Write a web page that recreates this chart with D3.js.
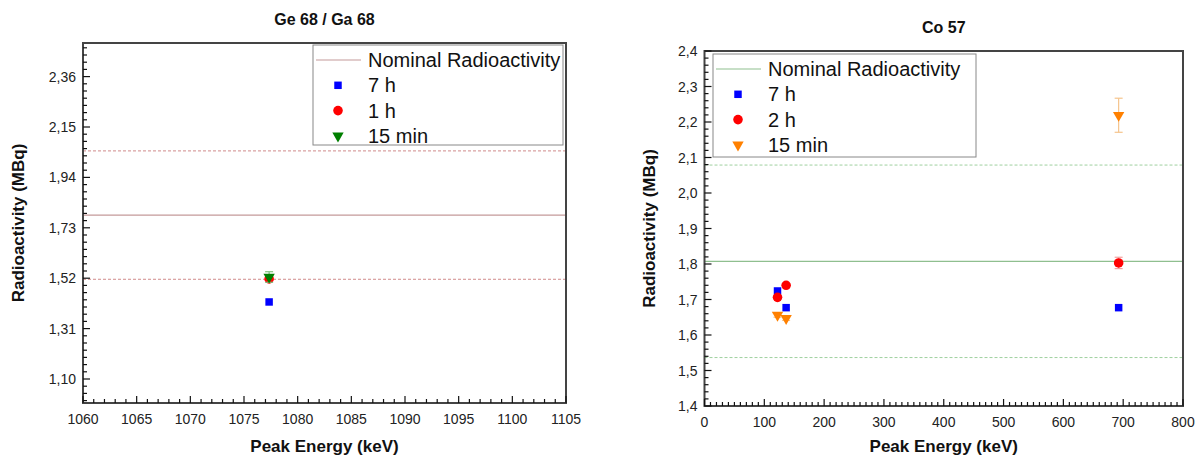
<!DOCTYPE html>
<html>
<head>
<meta charset="utf-8">
<script src="https://cdn.jsdelivr.net/npm/d3@7"></script>
<style>
  body { margin: 0; background: #fff; font-family: "Liberation Sans", Arial, sans-serif; }
  svg text { font-family: "Liberation Sans", Arial, sans-serif; }
</style>
</head>
<body>
<svg id="chart" width="1200" height="455"></svg>
<script>
'use strict';

// ─── Data: Ge 68 / Ga 68 ──────────────────────────────────────────────────────
const geEnergy      = [1077.34];
const ge7h          = [1.421];
const ge1h          = [1.517];
const ge15min       = [1.525];
const ge15minErr    = [0.022];
const geNominal     = 1.783;
const geXTicks      = [1060, 1065, 1070, 1075, 1080, 1085, 1090, 1095, 1100, 1105];
const geYTicks      = [1.10, 1.31, 1.52, 1.73, 1.94, 2.15, 2.36];
const geLegend      = ['Nominal Radioactivity', '7 h', '1 h', '15 min'];

// ─── Data: Co 57 ──────────────────────────────────────────────────────────────
const coEnergy      = [122.06, 136.47, 692.41];
const co7h          = [1.724, 1.677, 1.677];
const co2h          = [1.706, 1.740, 1.803];
const co2hErr       = [0.004, 0.004, 0.016];
const co15min       = [1.656, 1.647, 2.219];
const co15minErr    = [0.006, 0.006, 0.048];
const coNominal     = 1.8076;
const coXTicks      = [0, 100, 200, 300, 400, 500, 600, 700, 800];
const coYTicks      = [1.4, 1.5, 1.6, 1.7, 1.8, 1.9, 2.0, 2.1, 2.2, 2.3, 2.4];
const coLegend      = ['Nominal Radioactivity', '7 h', '2 h', '15 min'];

const fmtComma = d => d3.format('.2f')(d).replace('.', ',');
const fmtComma1 = d => d3.format('.1f')(d).replace('.', ',');

const svg = d3.select('#chart');

function minorRange(a, b, step) {
  const n = Math.round((b - a) / step);
  return d3.range(n + 1).map(i => a + i * step);
}

// ─── Generic panel ────────────────────────────────────────────────────────────
function drawPanel(cfg) {
  const { left, right, top, bottom } = cfg.box;
  const x = d3.scaleLinear().domain(cfg.xDomain).range([left, right]);
  const y = d3.scaleLinear().domain(cfg.yDomain).range([bottom, top]);
  const g = svg.append('g');

  // reference lines: nominal and ±15 %
  g.append('line')
    .attr('x1', left).attr('x2', right)
    .attr('y1', y(cfg.nominal)).attr('y2', y(cfg.nominal))
    .attr('stroke', cfg.nomColor).attr('stroke-width', 1.2);
  [cfg.nominal * 1.15, cfg.nominal * 0.85].forEach(v => {
    g.append('line')
      .attr('x1', left).attr('x2', right)
      .attr('y1', y(v)).attr('y2', y(v))
      .attr('stroke', cfg.dashColor).attr('stroke-width', 1)
      .attr('stroke-dasharray', '3,2');
  });

  // frame
  g.append('rect')
    .attr('x', left).attr('y', top)
    .attr('width', right - left).attr('height', bottom - top)
    .attr('fill', 'none').attr('stroke', '#444').attr('stroke-width', 2);

  // ticks (inward)
  minorRange(cfg.xDomain[0], cfg.xDomain[1], cfg.xMinor).forEach(v => {
    const major = cfg.xTicks.some(t => Math.abs(t - v) < 1e-6);
    g.append('line')
      .attr('x1', x(v)).attr('x2', x(v))
      .attr('y1', bottom).attr('y2', bottom - (major ? 7 : 4))
      .attr('stroke', '#111').attr('stroke-width', 1.2);
  });
  cfg.yMinorVals.forEach(v => {
    const major = cfg.yTicks.some(t => Math.abs(t - v) < 1e-6);
    g.append('line')
      .attr('x1', left).attr('x2', left + (major ? 7 : 4))
      .attr('y1', y(v)).attr('y2', y(v))
      .attr('stroke', '#111').attr('stroke-width', 1.2);
  });

  // tick labels
  cfg.xTicks.forEach(t => {
    g.append('text')
      .attr('x', x(t)).attr('y', bottom + 21)
      .attr('text-anchor', 'middle')
      .attr('font-size', '14px').attr('fill', '#222')
      .text(t);
  });
  cfg.yTicks.forEach(t => {
    g.append('text')
      .attr('x', left - 7).attr('y', y(t) + 5)
      .attr('text-anchor', 'end')
      .attr('font-size', '14px').attr('fill', '#222')
      .text(cfg.yFmt(t));
  });

  // titles
  g.append('text')
    .attr('x', (left + right) / 2).attr('y', cfg.titleY)
    .attr('text-anchor', 'middle')
    .attr('font-size', '16px').attr('font-weight', 'bold').attr('fill', '#111')
    .text(cfg.title);
  g.append('text')
    .attr('x', (left + right) / 2).attr('y', 452)
    .attr('text-anchor', 'middle')
    .attr('font-size', '17px').attr('font-weight', 'bold').attr('fill', '#111')
    .text('Peak Energy (keV)');
  g.append('text')
    .attr('transform', `translate(${cfg.yLabelX}, ${(top + bottom) / 2}) rotate(-90)`)
    .attr('text-anchor', 'middle')
    .attr('font-size', '17px').attr('font-weight', 'bold').attr('fill', '#111')
    .text('Radioactivity (MBq)');

  // series
  const sq = d3.symbol().type(d3.symbolSquare).size(56);
  const ci = d3.symbol().type(d3.symbolCircle).size(72);
  const tr = d3.symbol().type(d3.symbolTriangle).size(56);
  const shapes = [sq, ci, tr];

  cfg.series.forEach((s, si) => {
    s.values.forEach((v, i) => {
      const cx = x(cfg.energy[i]);
      const err = s.err ? s.err[i] : 0;
      if (err) {
        const eg = g.append('g').attr('stroke', s.errColor).attr('stroke-width', 1.2);
        eg.append('line').attr('x1', cx).attr('x2', cx).attr('y1', y(v - err)).attr('y2', y(v + err));
        [v - err, v + err].forEach(e => eg.append('line')
          .attr('x1', cx - 4).attr('x2', cx + 4).attr('y1', y(e)).attr('y2', y(e)));
      }
      g.append('path')
        .attr('d', shapes[si]())
        .attr('transform', `translate(${cx}, ${y(v)})${si === 2 ? ' rotate(180)' : ''}`)
        .attr('fill', s.color);
    });
  });

  // legend
  const L = cfg.legend;
  g.append('rect')
    .attr('x', L.x).attr('y', L.y).attr('width', L.w).attr('height', L.h)
    .attr('fill', '#fff').attr('stroke', '#888').attr('stroke-width', 1);
  const rowY = i => L.y + 15 + i * 25.3;
  g.append('line')
    .attr('x1', L.x + 3).attr('x2', L.x + 48)
    .attr('y1', rowY(0)).attr('y2', rowY(0))
    .attr('stroke', cfg.nomColor).attr('stroke-width', 1.2);
  cfg.series.forEach((s, si) => {
    g.append('path')
      .attr('d', shapes[si]())
      .attr('transform', `translate(${L.x + 25}, ${rowY(si + 1)})${si === 2 ? ' rotate(180)' : ''}`)
      .attr('fill', s.color);
  });
  cfg.legendLabels.forEach((lab, i) => {
    g.append('text')
      .attr('x', L.x + 55).attr('y', rowY(i) + 7)
      .attr('font-size', '20px').attr('fill', '#111')
      .text(lab);
  });
}

// ─── Left panel ───────────────────────────────────────────────────────────────
drawPanel({
  box: { left: 83, right: 566, top: 43, bottom: 403 },
  xDomain: [1060, 1105], yDomain: [1.0, 2.5],
  xTicks: geXTicks, yTicks: geYTicks, xMinor: 1,
  yMinorVals: minorRange(1.01, 2.48, 0.03),
  yFmt: fmtComma,
  nominal: geNominal, nomColor: '#c49a9a', dashColor: '#d08a8a',
  title: 'Ge 68 / Ga 68', titleY: 25, yLabelX: 24,
  energy: geEnergy,
  series: [
    { values: ge7h,    color: '#0000ff' },
    { values: ge1h,    color: '#ff0000' },
    { values: ge15min, color: '#007f00', err: ge15minErr, errColor: '#7fbf7f' },
  ],
  legend: { x: 313, y: 45, w: 250, h: 100 },
  legendLabels: geLegend,
});

// ─── Right panel ──────────────────────────────────────────────────────────────
drawPanel({
  box: { left: 704.5, right: 1183, top: 51, bottom: 406 },
  xDomain: [0, 800], yDomain: [1.4, 2.4],
  xTicks: coXTicks, yTicks: coYTicks, xMinor: 10,
  yMinorVals: minorRange(1.4, 2.4, 0.02),
  yFmt: fmtComma1,
  nominal: coNominal, nomColor: '#8fbf8f', dashColor: '#9fd09f',
  title: 'Co 57', titleY: 33, yLabelX: 655,
  energy: coEnergy,
  series: [
    { values: co7h,    color: '#0000ff' },
    { values: co2h,    color: '#ff0000', err: co2hErr, errColor: '#f4a0a0' },
    { values: co15min, color: '#ff8000', err: co15minErr, errColor: '#f5c48c' },
  ],
  legend: { x: 713, y: 54, w: 263, h: 103 },
  legendLabels: coLegend,
});
</script>
</body>
</html>
